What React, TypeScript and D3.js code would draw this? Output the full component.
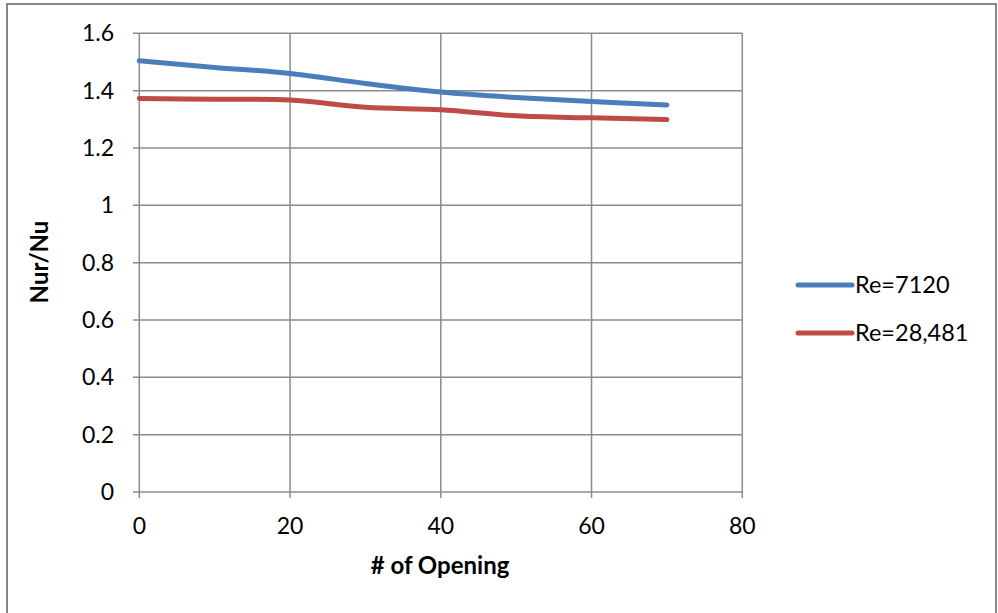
import React from "react";
import * as d3 from "d3";

const openings = [0, 10, 20, 30, 40, 50, 60, 70];
const re7120 = [1.504, 1.481, 1.46, 1.425, 1.395, 1.376, 1.362, 1.35];
const re28481 = [1.373, 1.37, 1.367, 1.342, 1.333, 1.312, 1.305, 1.299];
const seriesNames = ["Re=7120", "Re=28,481"];
const seriesColors = ["#4a7ebb", "#be4b48"];
const xTicks = [0, 20, 40, 60, 80];
const yTicks = [0, 0.2, 0.4, 0.6, 0.8, 1, 1.2, 1.4, 1.6];

export default function App() {
  const W = 998, H = 613;
  const x = d3.scaleLinear().domain([0, 80]).range([139.3, 742.3]);
  const y = d3.scaleLinear().domain([0, 1.6]).range([492, 33.3]);
  const font = "Lato, 'Open Sans', sans-serif";
  const line = d3
    .line<number>()
    .x((_, i) => x(openings[i]))
    .y((d) => y(d))
    .curve(d3.curveCatmullRom.alpha(0.5));
  const series = [re7120, re28481];
  return (
    <svg width={W} height={H} style={{ position: "absolute", left: 0, top: 0 }}>
      <rect x={0} y={0} width={W} height={H} fill="#fff" />
      <rect x={7} y={4} width={989} height={620} fill="none" stroke="#868686" strokeWidth={2} />
      {yTicks.map((t) => (
        <g key={"y" + t}>
          <line x1={133} x2={742.3} y1={y(t)} y2={y(t)} stroke="#8c8c8c" strokeWidth={1.5} />
          <text x={114} y={y(t)} dy="0.35em" textAnchor="end" fontFamily={font} fontSize={23} fill="#000">
            {t === 0 || t === 1 ? String(t) : t.toFixed(1)}
          </text>
        </g>
      ))}
      {xTicks.map((t) => (
        <g key={"x" + t}>
          <line x1={x(t)} x2={x(t)} y1={33.3} y2={498} stroke="#8c8c8c" strokeWidth={1.5} />
          <text x={x(t)} y={526} dy="0.35em" textAnchor="middle" fontFamily={font} fontSize={23} fill="#000">
            {t}
          </text>
        </g>
      ))}
      {series.map((s, i) => (
        <path key={i} d={line(s) || ""} fill="none" stroke={seriesColors[i]} strokeWidth={5} strokeLinecap="round" strokeLinejoin="round" />
      ))}
      <text x={440} y={566} dy="0.35em" textAnchor="middle" fontFamily={font} fontSize={24} fontWeight="bold" fill="#000">
        # of Opening
      </text>
      <text transform="translate(40,262) rotate(-90)" dy="0.35em" textAnchor="middle" fontFamily={font} fontSize={24} fontWeight="bold" fill="#000">
        Nur/Nu
      </text>
      {seriesNames.map((n, i) => (
        <g key={n}>
          <line x1={798} x2={852} y1={285 + i * 48} y2={285 + i * 48} stroke={seriesColors[i]} strokeWidth={5} strokeLinecap="round" />
          <text x={855} y={285 + i * 48} dy="0.35em" fontFamily={font} fontSize={23.5} fill="#000">
            {n}
          </text>
        </g>
      ))}
    </svg>
  );
}
